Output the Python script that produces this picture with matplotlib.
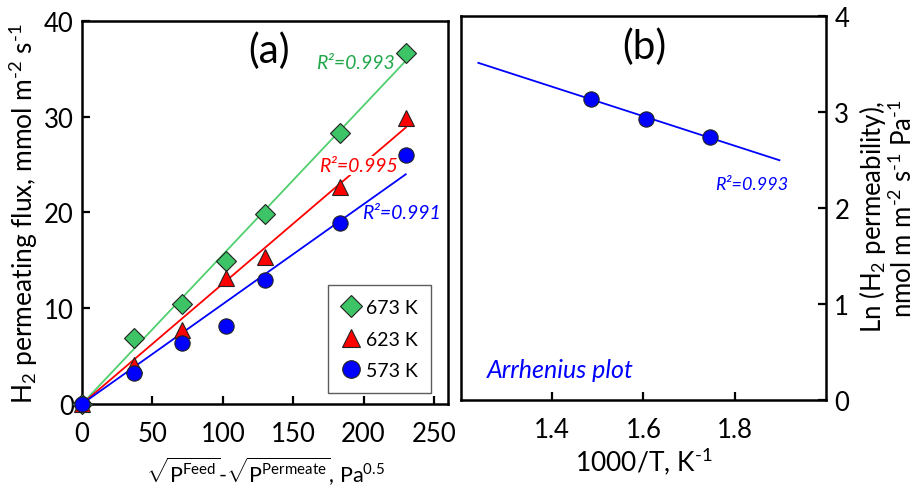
import numpy as np
import matplotlib
matplotlib.use("Agg")
import matplotlib.pyplot as plt

plt.rcParams['font.family'] = ['Lato', 'DejaVu Sans']
plt.rcParams['mathtext.fontset'] = 'custom'
plt.rcParams['mathtext.rm'] = 'Lato'
plt.rcParams['mathtext.it'] = 'Lato:italic'
plt.rcParams['mathtext.default'] = 'regular'

# (a) flux vs sqrt pressure difference
dp = [0, 37, 71, 102, 130, 183, 230]
flux_673 = [0, 6.86, 10.44, 14.97, 19.88, 28.3, 36.66]
flux_623 = [0, 4.1, 7.7, 13.2, 15.4, 22.7, 29.9]
flux_573 = [0, 3.24, 6.34, 8.11, 12.98, 18.87, 26.04]
r2_a = ['0.993', '0.995', '0.991']
temps = ['673 K', '623 K', '573 K']

# (b) Arrhenius plot
inv_T = [1000 / 673, 1000 / 623, 1000 / 573]
ln_perm = [3.14, 2.93, 2.74]
r2_b = '0.993'

green_m, green_l, green_t = '#3dc466', '#4fcf6e', '#22a84a'
red = '#ff0000'
blue = '#0000ff'

fig = plt.figure(figsize=(9.19, 4.89), dpi=100)
ax1 = fig.add_axes([0.0892, 0.1718, 0.3983, 0.7832])
ax2 = fig.add_axes([0.5016, 0.18, 0.3972, 0.7853])

for ax in (ax1, ax2):
    for s in ax.spines.values():
        s.set_linewidth(1.8)
    ax.tick_params(direction='in', length=6, width=1.6, labelsize=18.5)
    ax.tick_params(axis='x', pad=12)

x = np.array(dp, dtype=float)
series = [
    (flux_673, 'D', green_m, green_l, 10),
    (flux_623, '^', red, red, 11),
    (flux_573, 'o', blue, blue, 11),
]
for (y, mk, mc, lc, ms), lab in zip(series, temps):
    y = np.array(y)
    k = np.sum(x * y) / np.sum(x * x)  # fit through origin
    ax1.plot([0, x[-1]], [0, k * x[-1]], color=lc, lw=1.3, zorder=2)
    ax1.plot(x, y, mk, color=mc, mec='#222222', mew=0.8, ms=ms, zorder=4,
             label=lab, clip_on=False)

ax1.set_xlim(0, 260)
ax1.set_ylim(0, 40)
ax1.set_xticks([0, 50, 100, 150, 200, 250])
ax1.set_yticks([0, 10, 20, 30, 40])
ax1.tick_params(axis='y', pad=6)

ax1.text(133, 36.9, '(a)', fontsize=29, ha='center', va='center')
ax1.text(222, 35.7, 'R²=' + r2_a[0], color=green_t, style='italic',
         fontsize=14, ha='right', va='center', zorder=3)
ax1.text(224, 24.9, 'R²=' + r2_a[1], color=red, style='italic',
         fontsize=14, ha='right', va='center', zorder=3,
         bbox=dict(facecolor='white', edgecolor='none', pad=1))
ax1.text(255, 20.0, 'R²=' + r2_a[2], color=blue, style='italic',
         fontsize=14, ha='right', va='center', zorder=3)

leg = ax1.legend(loc='lower right', bbox_to_anchor=(0.954, 0.029),
                 fontsize=14, frameon=True, fancybox=False, markerscale=1.15,
                 handletextpad=0.25, borderpad=0.7, labelspacing=0.75,
                 handlelength=1.0, borderaxespad=0)
leg.get_frame().set_edgecolor('#333333')
leg.get_frame().set_linewidth(1.0)

ax1.set_xlabel(r'$\sqrt{P^{Feed}}$-$\sqrt{P^{Permeate}}$, Pa$^{0.5}$',
               fontsize=15.5, labelpad=7)
ax1.set_ylabel(r'H$_2$ permeating flux, mmol m$^{\text{-}2}$ s$^{\text{-}1}$',
               fontsize=19, labelpad=3)

# Arrhenius fit
xb = np.array(inv_T)
yb = np.array(ln_perm)
slope, icpt = np.polyfit(xb, yb, 1)
xl = np.array([1.238, 1.898])
ax2.plot(xl, slope * xl + icpt, color=blue, lw=1.3, zorder=2)
ax2.plot(xb, yb, 'o', color=blue, mec='#222222', mew=0.8, ms=11, zorder=4)

ax2.set_xlim(1.2, 2.0)
ax2.set_ylim(0, 4)
ax2.set_xticks([1.4, 1.6, 1.8])
ax2.set_xticklabels(['1.4', '1.6', '1.8'])
ax2.set_yticks([0, 1, 2, 3, 4])
ax2.yaxis.tick_right()
ax2.tick_params(axis='y', pad=6)
ax2.set_xlabel(r'1000/T, K$^{\text{-}1}$', fontsize=19, labelpad=3)

ax2.text(1.602, 3.69, '(b)', fontsize=29, ha='center', va='center')
ax2.text(1.917, 2.25, 'R²=' + r2_b, color=blue, style='italic',
         fontsize=13, ha='right', va='center')
ax2.text(1.257, 0.32, 'Arrhenius plot', color=blue, style='italic',
         fontsize=18, ha='left', va='center')

fig.text(872 / 919, 1 - 217 / 489, r'Ln (H$_2$ permeability),', rotation=90,
         fontsize=18.5, ha='center', va='center')
fig.text(903 / 919, 1 - 209 / 489,
         r'nmol m m$^{\text{-}2}$ s$^{\text{-}1}$ Pa$^{\text{-}1}$',
         rotation=90, fontsize=18.5, ha='center', va='center')

fig.savefig('out.png', dpi=100)
